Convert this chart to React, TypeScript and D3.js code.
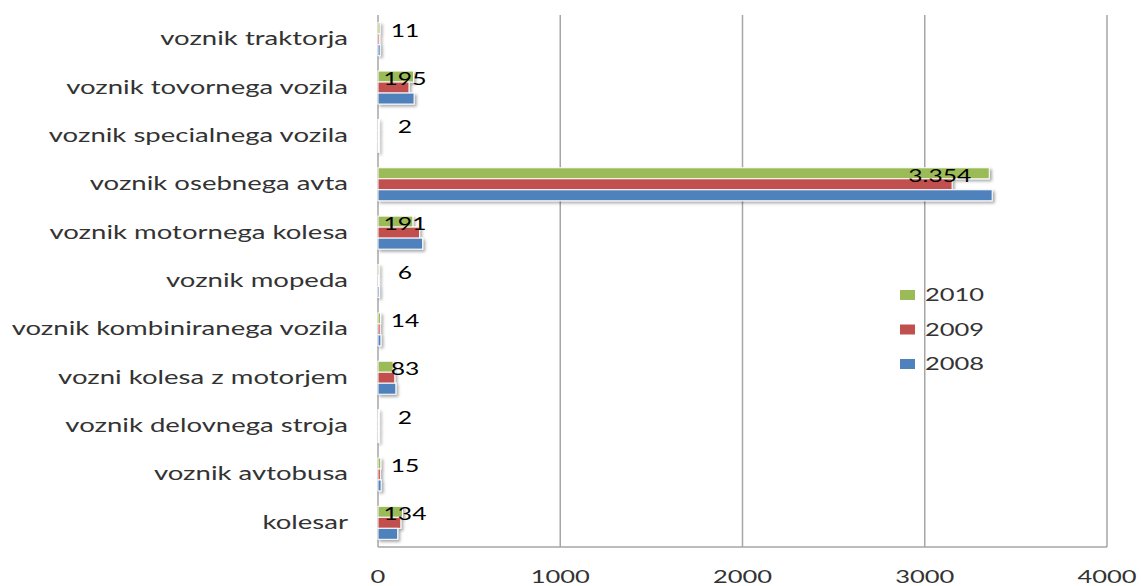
import { useEffect, useRef } from 'react'
import * as d3 from 'd3'

const categories = [
  'voznik traktorja',
  'voznik tovornega vozila',
  'voznik specialnega vozila',
  'voznik osebnega avta',
  'voznik motornega kolesa',
  'voznik mopeda',
  'voznik kombiniranega vozila',
  'vozni kolesa z motorjem',
  'voznik delovnega stroja',
  'voznik avtobusa',
  'kolesar',
]
const years = ['2010', '2009', '2008']
const values2010 = [11, 195, 2, 3354, 191, 6, 14, 83, 2, 15, 134]
const values2009 = [9, 170, 3, 3150, 228, 5, 12, 92, 3, 13, 125]
const values2008 = [12, 198, 2, 3370, 245, 8, 16, 98, 4, 17, 108]
const colors = ['#9BBB59', '#C0504D', '#4F81BD']
const xTicks = [0, 1000, 2000, 3000, 4000]

const App = () => {
  const ref = useRef<SVGSVGElement>(null)

  useEffect(() => {
    const width = 1141
    const height = 586
    const margin = { top: 15, right: 34, bottom: 39, left: 378 }
    const series = [values2010, values2009, values2008]

    const svg = d3.select(ref.current)
    svg.selectAll('*').remove()
    svg.attr('width', width).attr('height', height)

    const defs = svg.append('defs')
    defs.append('filter')
      .attr('id', 'shadow')
      .attr('x', '-20%').attr('y', '-50%')
      .attr('width', '140%').attr('height', '200%')
      .append('feDropShadow')
      .attr('dx', 2).attr('dy', 2)
      .attr('stdDeviation', 1.5)
      .attr('flood-color', '#000')
      .attr('flood-opacity', 0.35)

    svg.append('rect').attr('width', width).attr('height', height).attr('fill', '#fff')

    const x = d3.scaleLinear().domain([0, 4000]).range([margin.left, width - margin.right])
    const y = d3.scaleBand().domain(categories).range([margin.top, height - margin.bottom])
    const inner = d3.scaleBand().domain(years).range([0, 33])

    // place text at data-x/data-y and stretch it horizontally
    const stretch = (sel: any, sx: number) =>
      sel.attr('transform', (d: any, i: number, n: any) => {
        const el = n[i]
        return `translate(${el.getAttribute('data-x')},${el.getAttribute('data-y')}) scale(${sx},1)`
      })

    // gridlines
    svg.append('g')
      .selectAll('line')
      .data(xTicks.slice(1))
      .join('line')
      .attr('x1', d => x(d)).attr('x2', d => x(d))
      .attr('y1', margin.top).attr('y2', height - margin.bottom)
      .attr('stroke', '#a6a6a6').attr('stroke-width', 1.5)

    // axis lines
    svg.append('line')
      .attr('x1', x(0)).attr('x2', x(0))
      .attr('y1', margin.top).attr('y2', height - margin.bottom)
      .attr('stroke', '#a6a6a6').attr('stroke-width', 1.5)
    svg.append('line')
      .attr('x1', x(0)).attr('x2', x(4000))
      .attr('y1', height - margin.bottom).attr('y2', height - margin.bottom)
      .attr('stroke', '#a6a6a6').attr('stroke-width', 1.5)

    // bars
    const bars = svg.append('g').attr('filter', 'url(#shadow)')
    series.forEach((vals, si) => {
      bars.selectAll(`rect.s${si}`)
        .data(vals)
        .join('rect')
        .attr('class', `s${si}`)
        .attr('x', x(0))
        .attr('y', (d, i) => y(categories[i])! + y.bandwidth() / 2 - 16.5 + inner(years[si])!)
        .attr('width', d => Math.max(x(d) - x(0), 1))
        .attr('height', inner.bandwidth())
        .attr('fill', colors[si])
        .attr('stroke', '#fff')
        .attr('stroke-width', 1)
    })

    // data labels (2010 only)
    svg.append('g')
      .selectAll('text')
      .data(values2010)
      .join('text')
      .attr('data-x', d => (x(d) - x(0) > 100 ? x(d) - 18 : x(0) + 27))
      .attr('data-y', (d, i) => y(categories[i])! + y.bandwidth() / 2 - 11 + inner.bandwidth() / 2 + 3)
      .attr('text-anchor', d => (x(d) - x(0) > 100 ? 'end' : 'middle'))
      .attr('font-family', 'Lato')
      .attr('font-size', 17)
      .attr('fill', '#000')
      .text(d => d >= 1000 ? d3.format(',')(d).replace(',', '.') : String(d))
      .call(stretch, 1.45)

    // category labels
    svg.append('g')
      .selectAll('text')
      .data(categories)
      .join('text')
      .attr('data-x', 348)
      .attr('data-y', d => y(d)! + y.bandwidth() / 2 + 6)
      .attr('text-anchor', 'end')
      .attr('font-family', 'Lato')
      .attr('font-size', 19)
      .attr('fill', '#333')
      .text(d => d)
      .call(stretch, 1.45)

    // x tick labels
    svg.append('g')
      .selectAll('text')
      .data(xTicks)
      .join('text')
      .attr('data-x', d => x(d))
      .attr('data-y', 583)
      .attr('text-anchor', 'middle')
      .attr('font-family', 'Lato')
      .attr('font-size', 17)
      .attr('fill', '#333')
      .text(d => String(d))
      .call(stretch, 1.5)

    // legend
    const legend = svg.append('g')
    years.forEach((yr, i) => {
      const ly = 295 + i * 34.5
      legend.append('rect')
        .attr('x', 900).attr('y', ly - 5)
        .attr('width', 15).attr('height', 10)
        .attr('fill', colors[i])
      legend.append('text')
        .attr('data-x', 925).attr('data-y', ly + 6)
        .attr('font-family', 'Lato')
        .attr('font-size', 17)
        .attr('fill', '#333')
        .text(yr)
        .call(stretch, 1.5)
    })
  }, [])

  return <svg ref={ref} style={{ position: 'absolute', left: 0, top: 0 }}></svg>
}

export default App
